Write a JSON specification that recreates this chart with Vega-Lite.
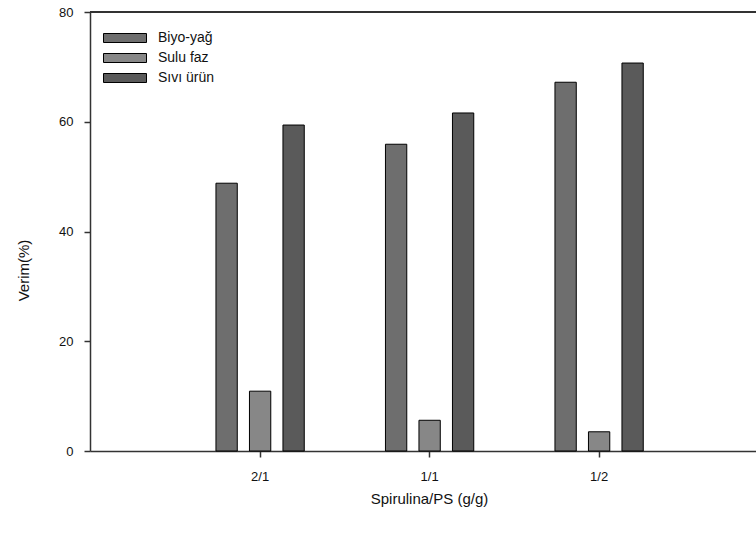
{
  "$schema": "https://vega.github.io/schema/vega-lite/v6.json",
  "autosize": "none",
  "width": 666,
  "height": 439,
  "padding": {"left": 90, "top": 12, "right": 0, "bottom": 83},
  "background": "white",
  "config": {
    "view": {"stroke": null},
    "font": "Liberation Sans",
    "axis": {
      "domainColor": "#333333",
      "domainWidth": 1.5,
      "tickColor": "#333333",
      "tickWidth": 1.5,
      "tickSize": 6,
      "labelColor": "#111111",
      "labelFont": "Liberation Sans",
      "labelFontSize": 13,
      "titleFont": "Liberation Sans",
      "titleFontSize": 15,
      "titleFontWeight": "normal",
      "titleColor": "#111111",
      "grid": false
    }
  },
  "data": {
    "values": [
      {"oran": "2/1", "urun": "Biyo-yağ", "verim": 48.8},
      {"oran": "2/1", "urun": "Sulu faz", "verim": 10.9},
      {"oran": "2/1", "urun": "Sıvı ürün", "verim": 59.4},
      {"oran": "1/1", "urun": "Biyo-yağ", "verim": 55.9},
      {"oran": "1/1", "urun": "Sulu faz", "verim": 5.6},
      {"oran": "1/1", "urun": "Sıvı ürün", "verim": 61.6},
      {"oran": "1/2", "urun": "Biyo-yağ", "verim": 67.2},
      {"oran": "1/2", "urun": "Sulu faz", "verim": 3.5},
      {"oran": "1/2", "urun": "Sıvı ürün", "verim": 70.7}
    ]
  },
  "layer": [
    {
      "mark": {"type": "bar", "stroke": "#000000", "strokeWidth": 1},
      "encoding": {
        "x": {
          "field": "oran",
          "type": "nominal",
          "sort": ["2/1", "1/1", "1/2"],
          "scale": {"paddingInner": 0, "paddingOuter": 0.4646, "align": 0.542},
          "axis": {
            "title": "Spirulina/PS (g/g)",
            "labelAngle": 0,
            "labelPadding": 13,
            "titlePadding": 8,
            "titleX": 339
          }
        },
        "xOffset": {
          "field": "urun",
          "type": "nominal",
          "scale": {
            "domain": ["_sol", "Biyo-yağ", "Sulu faz", "Sıvı ürün", "_sag"],
            "paddingInner": 0.364,
            "paddingOuter": 0.212
          }
        },
        "y": {
          "field": "verim",
          "type": "quantitative",
          "scale": {"domain": [0, 80], "nice": false},
          "axis": {
            "title": "Verim(%)",
            "values": [0, 20, 40, 60, 80],
            "labelPadding": 11,
            "titleX": -59,
            "titleY": 258
          }
        },
        "fill": {
          "field": "urun",
          "type": "nominal",
          "sort": ["Biyo-yağ", "Sulu faz", "Sıvı ürün"],
          "scale": {"range": ["#6e6e6e", "#878787", "#5a5a5a"]},
          "legend": {
            "title": null,
            "orient": "none",
            "legendX": 28,
            "legendY": 19,
            "padding": 0,
            "symbolType": "M-4.3,-0.9H4.3V0.9H-4.3Z",
            "symbolSize": 100,
            "symbolStrokeColor": "#000000",
            "symbolStrokeWidth": 1,
            "symbolOpacity": 1,
            "labelFont": "Liberation Sans",
            "labelFontSize": 14,
            "labelColor": "#111111",
            "labelOffset": 26,
            "rowPadding": 6
          }
        }
      }
    },
    {
      "mark": {"type": "rule", "color": "#333333", "strokeWidth": 1.5},
      "encoding": {"y": {"datum": 80}}
    }
  ]
}
